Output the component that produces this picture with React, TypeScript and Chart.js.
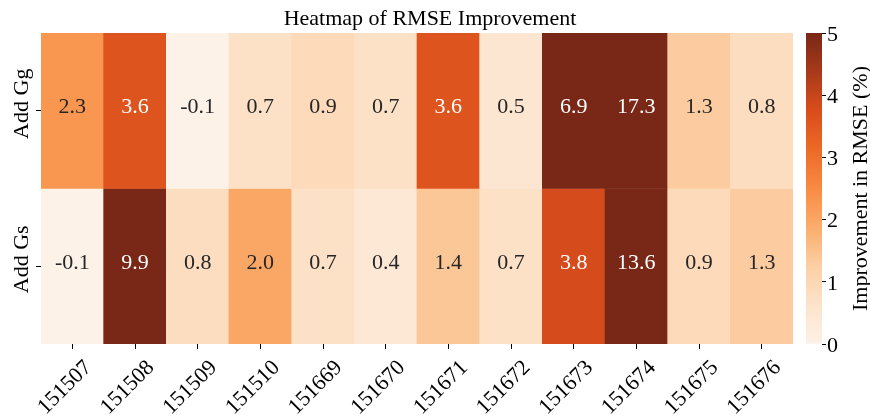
import React, { useEffect, useRef } from 'react';
import { Chart, registerables } from 'chart.js';

Chart.register(...registerables);

// ---- data ----
const columns = ['151507', '151508', '151509', '151510', '151669', '151670', '151671', '151672', '151673', '151674', '151675', '151676'];
const rowLabels = ['Add Gg', 'Add Gs'];
const addGg = [2.3, 3.6, -0.1, 0.7, 0.9, 0.7, 3.6, 0.5, 6.9, 17.3, 1.3, 0.8];
const addGs = [-0.1, 9.9, 0.8, 2.0, 0.7, 0.4, 1.4, 0.7, 3.8, 13.6, 0.9, 1.3];
const rowBands: [number, number][] = [[1, 2], [0, 1]];
const colorbarTicks = [0, 1, 2, 3, 4, 5];
const vmin = 0;
const vmax = 5;
const titleText = 'Heatmap of RMSE Improvement';
const colorbarLabel = 'Improvement in RMSE (%)';

// Oranges-like palette (as rendered in the reference)
const ORANGES = ['#fcf2e7', '#fde3cb', '#fccfa4', '#fbad6c', '#f88b43', '#ec6a26', '#d94d1c', '#a83a1a', '#792716'];
const FONT = "'Liberation Serif', 'Times New Roman', serif";

function hexToRgb(h: string): number[] {
  const n = parseInt(h.slice(1), 16);
  return [(n >> 16) & 255, (n >> 8) & 255, n & 255];
}
const ORANGES_RGB = ORANGES.map(hexToRgb);

function cmap(v: number): number[] {
  let t = (v - vmin) / (vmax - vmin);
  t = Math.max(0, Math.min(1, t));
  const pos = t * (ORANGES_RGB.length - 1);
  const i = Math.min(Math.floor(pos), ORANGES_RGB.length - 2);
  const f = pos - i;
  const a = ORANGES_RGB[i];
  const b = ORANGES_RGB[i + 1];
  return [0, 1, 2].map((k) => a[k] + (b[k] - a[k]) * f);
}
function rgbStr(c: number[]): string {
  return `rgb(${Math.round(c[0])},${Math.round(c[1])},${Math.round(c[2])})`;
}
function textColorFor(c: number[]): string {
  const lin = c.map((x) => {
    const v = x / 255;
    return v <= 0.03928 ? v / 12.92 : Math.pow((v + 0.055) / 1.055, 2.4);
  });
  const lum = 0.2126 * lin[0] + 0.7152 * lin[1] + 0.0722 * lin[2];
  return lum > 0.408 ? '#262626' : '#ffffff';
}

const rowValues = [addGg, addGs];

export default function App() {
  const mainRef = useRef<HTMLCanvasElement>(null);
  const cbRef = useRef<HTMLCanvasElement>(null);

  useEffect(() => {
    if (!mainRef.current || !cbRef.current) return;

    const overlay = {
      id: 'heatOverlay',
      afterDraw(chart: any) {
        const ctx = chart.ctx;
        ctx.save();
        // title
        ctx.font = `22px ${FONT}`;
        ctx.fillStyle = '#000';
        ctx.textAlign = 'center';
        ctx.textBaseline = 'alphabetic';
        ctx.fillText(titleText, 430, 24.5);
        // annotations
        rowValues.forEach((vals, d) => {
          const meta = chart.getDatasetMeta(d);
          meta.data.forEach((el: any, i: number) => {
            const v = vals[i];
            const cx = el.x;
            const cy = (el.y + el.base) / 2;
            ctx.fillStyle = textColorFor(cmap(v));
            ctx.fillText(v.toFixed(1), cx, cy + 2.5);
          });
        });
        // row labels
        const yScale = chart.scales.y;
        ctx.fillStyle = '#000';
        rowLabels.forEach((lab, r) => {
          const center = (rowBands[r][0] + rowBands[r][1]) / 2;
          const y = yScale.getPixelForValue(center);
          ctx.save();
          ctx.translate(28, y - 7);
          ctx.rotate(-Math.PI / 2);
          ctx.textAlign = 'center';
          ctx.textBaseline = 'alphabetic';
          ctx.fillText(lab, 0, 0);
          ctx.restore();
        });
        ctx.restore();
      },
    };

    const main = new Chart(mainRef.current, {
      type: 'bar',
      data: {
        labels: columns,
        datasets: rowLabels.map((lab, r) => ({
          label: lab,
          data: rowValues[r].map(() => rowBands[r]),
          backgroundColor: rowValues[r].map((v) => rgbStr(cmap(v))),
          borderWidth: 0,
          barPercentage: 1,
          categoryPercentage: 1,
          grouped: false,
        })) as any,
      },
      options: {
        responsive: false,
        animation: false,
        devicePixelRatio: 1,
        layout: { padding: { left: 0, right: 77, top: 33, bottom: 0 } },
        plugins: {
          legend: { display: false },
          tooltip: { enabled: false },
          title: { display: false },
        },
        scales: {
          x: {
            offset: true,
            grid: { offset: false, drawOnChartArea: false, drawTicks: true, tickLength: 5, color: '#000', lineWidth: 1 },
            border: { display: false },
            ticks: {
              autoSkip: false,
              minRotation: 45,
              maxRotation: 45,
              color: '#000',
              padding: 6,
              labelOffset: 16,
              font: { family: FONT, size: 22 },
            },
            afterFit: (s: any) => {
              s.height = 76;
            },
          },
          y: {
            min: 0,
            max: 2,
            afterBuildTicks: (s: any) => {
              s.ticks = rowBands.map((b) => ({ value: (b[0] + b[1]) / 2 }));
            },
            ticks: { display: false },
            grid: { drawOnChartArea: false, drawTicks: true, tickLength: 5, color: '#000', lineWidth: 1 },
            border: { display: false },
            afterFit: (s: any) => {
              s.width = 41;
            },
          },
        },
      } as any,
      plugins: [overlay],
    });

    const cbOverlay = {
      id: 'cbOverlay',
      afterDraw(chart: any) {
        const ctx = chart.ctx;
        const area = chart.chartArea;
        ctx.save();
        ctx.font = `22px ${FONT}`;
        ctx.fillStyle = '#000';
        ctx.translate(77, (area.top + area.bottom) / 2);
        ctx.rotate(-Math.PI / 2);
        ctx.textAlign = 'center';
        ctx.textBaseline = 'alphabetic';
        ctx.fillText(colorbarLabel, 0, 0);
        ctx.restore();
      },
    };

    const cb = new Chart(cbRef.current, {
      type: 'bar',
      data: {
        labels: [''],
        datasets: [
          {
            data: [[vmin, vmax]],
            backgroundColor: (c: any) => {
              const area = c.chart.chartArea;
              if (!area) return ORANGES[0];
              const g = c.chart.ctx.createLinearGradient(0, area.bottom, 0, area.top);
              ORANGES.forEach((col, i) => g.addColorStop(i / (ORANGES.length - 1), col));
              return g;
            },
            borderWidth: 0,
            barPercentage: 1,
            categoryPercentage: 1,
          },
        ] as any,
      },
      options: {
        responsive: false,
        animation: false,
        devicePixelRatio: 1,
        layout: { padding: { left: 16, right: 0, top: 33, bottom: 76 } },
        plugins: { legend: { display: false }, tooltip: { enabled: false } },
        scales: {
          x: { display: false },
          y: {
            position: 'right',
            min: vmin,
            max: vmax,
            afterBuildTicks: (s: any) => {
              s.ticks = colorbarTicks.map((v) => ({ value: v }));
            },
            ticks: {
              color: '#000',
              padding: 1,
              labelOffset: 2,
              font: { family: FONT, size: 22 },
              callback: (v: any) => String(v),
            },
            grid: { drawOnChartArea: false, drawTicks: true, tickLength: 4, color: '#000', lineWidth: 1 },
            border: { display: false },
            afterFit: (s: any) => {
              s.width = 48;
            },
          },
        },
      } as any,
      plugins: [cbOverlay],
    });

    return () => {
      main.destroy();
      cb.destroy();
    };
  }, []);

  return (
    <div style={{ position: 'fixed', left: 0, top: 0, width: 870, height: 420, background: '#fff' }}>
      <canvas ref={mainRef} width={870} height={420} style={{ position: 'absolute', left: 0, top: 0, width: 870, height: 420 }} />
      <canvas ref={cbRef} width={80} height={420} style={{ position: 'absolute', left: 790, top: 0, width: 80, height: 420 }} />
    </div>
  );
}
